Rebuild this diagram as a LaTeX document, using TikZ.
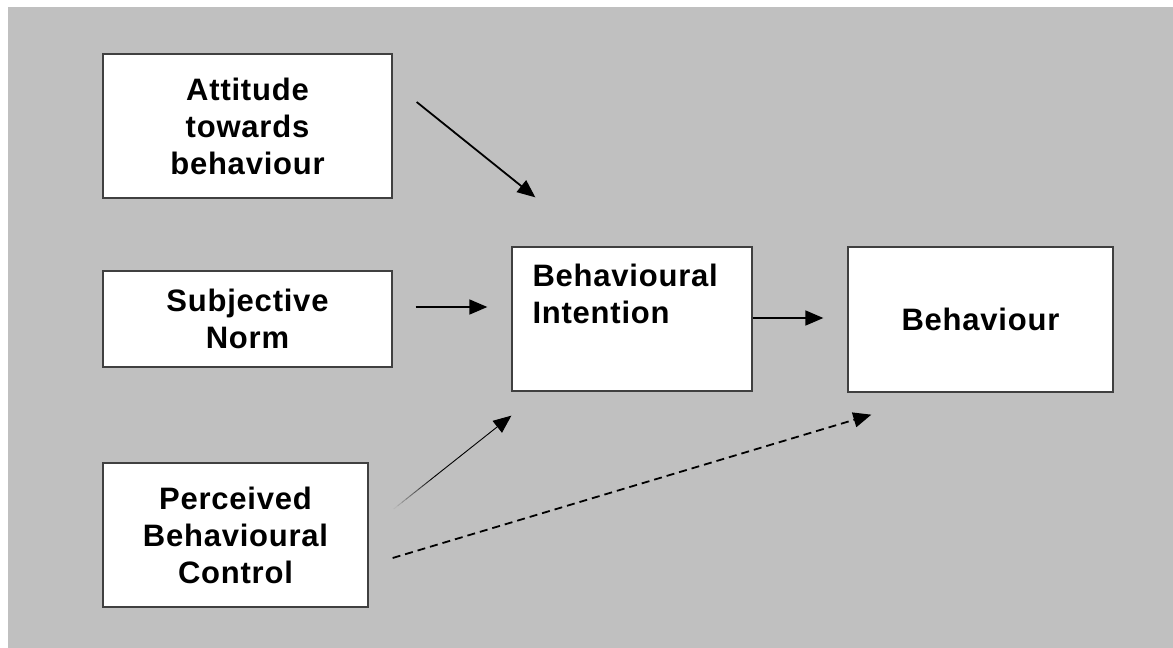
\documentclass[tikz,border=0pt]{standalone}
\usepackage{fontspec}
\setmainfont{Liberation Sans}[LetterSpace=2.5]
\usetikzlibrary{arrows.meta,calc}
\definecolor{panel}{HTML}{C0C0C0}
\definecolor{frame}{HTML}{404040}
\tikzset{
  box/.style={draw=frame, line width=1.3pt, fill=white, inner sep=0pt,
    align=center, font=\bfseries\fontsize{31}{37}\selectfont},
  label text/.style={inner sep=0pt, align=left,
    font=\bfseries\fontsize{31}{37}\selectfont},
  tip/.style={-{Triangle[length=18pt,width=15pt]}},
  link/.style={tip, line width=1.6pt},
}
\begin{document}
\begin{tikzpicture}[x=1pt,y=-1pt]
\useasboundingbox (0,0) rectangle (1173,648);
\fill[white] (0,0) rectangle (1173,648);
\fill[panel] (8,7) rectangle (1173,648);

% boxes
\node[box, minimum width=289pt, minimum height=144pt] (att) at (247.5,126) {Attitude\\towards\\behaviour};
\node[box, minimum width=289pt, minimum height=96pt] (sn) at (247.5,319) {Subjective\\Norm};
\node[box, minimum width=265pt, minimum height=144pt] (pbc) at (235.5,535) {Perceived\\Behavioural\\Control};
\node[box, minimum width=240pt, minimum height=144pt] (bi) at (632,319) {};
\node[label text, anchor=north west] (bitext) at ($(bi.north west)+(21,17)$) {Behavioural\\Intention};
\node[box, minimum width=265pt, minimum height=145pt] (beh) at (980.5,319.5) {Behaviour};

% connector end points
\coordinate (attS) at ($(att.east)+(24,-24)$);
\coordinate (attE) at ($(bi.north west)+(24,-49)$);
\coordinate (snS) at ($(sn.east)+(23,-12)$);
\coordinate (snE) at ($(bi.west)+(-24,-12)$);
\coordinate (biS) at ($(bi.east)+(0,-1)$);
\coordinate (biE) at ($(beh.west)+(-24,-1.5)$);
\coordinate (pbcS) at ($(pbc.east)+(25,-26)$);
\coordinate (pbcE) at ($(bi.south west)+(0,24)$);
\coordinate (dS) at ($(pbc.east)+(24,23)$);
\coordinate (dE) at ($(beh.south west)+(24,22)$);

% arrows
\draw[link, line width=1.8pt] (attS) -- (attE);
\draw[link] (snS) -- (snE);
\draw[link] (biS) -- (biE);
\foreach \i in {0,...,9}
  \draw[line width=0.9pt, color=black!\the\numexpr\i*10+5\relax!panel]
    ($(pbcS)!{\i*0.035}!(pbcE)$) -- ($(pbcS)!{(\i+1)*0.035+0.002}!(pbcE)$);
\draw[tip, line width=0.9pt] ($(pbcS)!0.35!(pbcE)$) -- (pbcE);
\draw[tip, line width=1.8pt, dash pattern=on 8pt off 5pt] (dS) -- (dE);
\end{tikzpicture}
\end{document}
